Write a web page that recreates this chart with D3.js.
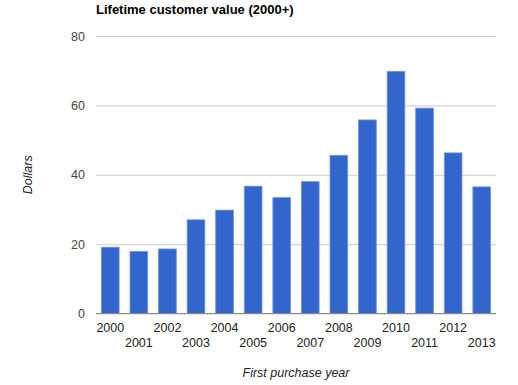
<!DOCTYPE html>
<html>
<head>
<meta charset="utf-8">
<script src="https://cdn.jsdelivr.net/npm/d3@7"></script>
<style>
  body { margin: 0; background: #fff; }
  text { font-family: Arial, "Liberation Sans", sans-serif; }
</style>
</head>
<body>
<svg id="chart"></svg>
<script>
// Data
const years = ["2000", "2001", "2002", "2003", "2004", "2005", "2006",
  "2007", "2008", "2009", "2010", "2011", "2012", "2013"];
const values = [19.1, 17.9, 18.6, 27.0, 29.8, 36.7, 33.4,
  38.0, 45.6, 55.8, 69.8, 59.2, 46.3, 36.5];
const yTicks = [0, 20, 40, 60, 80];

const W = 518, H = 385;
const margin = { top: 36, right: 22, bottom: 71.5, left: 96 };
const width = W - margin.left - margin.right;
const height = H - margin.top - margin.bottom;

const svg = d3.select("#chart").attr("width", W).attr("height", H);
const g = svg.append("g")
  .attr("transform", "translate(" + margin.left + "," + margin.top + ")");

const x = d3.scaleBand()
  .domain(years)
  .range([0, width])
  .paddingInner(0.382)
  .paddingOuter(0.191);

const y = d3.scaleLinear().domain([0, 80]).range([height, 0]);

// Gridlines + y labels
const yAxis = g.append("g")
  .call(d3.axisLeft(y).tickValues(yTicks).tickSize(-width).tickPadding(11));
yAxis.select(".domain").remove();
yAxis.selectAll(".tick line").attr("stroke", "#ccc");
yAxis.selectAll(".tick text")
  .attr("fill", "#444")
  .style("font-size", "12.5px");

// Bars
g.selectAll(".bar")
  .data(values)
  .enter()
  .append("rect")
  .attr("class", "bar")
  .attr("x", (d, i) => x(years[i]))
  .attr("y", (d) => y(d))
  .attr("width", x.bandwidth())
  .attr("height", (d) => height - y(d))
  .attr("fill", "#3366cc")
  .attr("stroke", "#6f8fdc")
  .attr("stroke-width", 0.8);

// Baseline
g.append("line")
  .attr("x1", 0).attr("x2", width)
  .attr("y1", y(0)).attr("y2", y(0))
  .attr("stroke", "#888").attr("stroke-width", 1.2);

// X labels in two staggered rows
const xAxis = g.append("g")
  .attr("transform", "translate(0," + height + ")")
  .call(d3.axisBottom(x).tickSize(0).tickPadding(0));
xAxis.select(".domain").remove();
xAxis.selectAll(".tick text")
  .attr("fill", "#222")
  .style("font-size", "12.5px")
  .attr("dy", null)
  .attr("y", (d, i) => (i % 2 === 0 ? 18.5 : 33.5));

// Title
svg.append("text")
  .attr("x", 96).attr("y", 14)
  .style("font-size", "13px")
  .style("font-weight", "bold")
  .attr("fill", "#000")
  .text("Lifetime customer value (2000+)");

// Axis titles
svg.append("text")
  .attr("x", margin.left + width / 2).attr("y", 377)
  .attr("text-anchor", "middle")
  .style("font-size", "12.5px")
  .style("font-style", "italic")
  .attr("fill", "#222")
  .text("First purchase year");

svg.append("text")
  .attr("transform", "translate(32," + (margin.top + height / 2) + ") rotate(-90)")
  .attr("text-anchor", "middle")
  .style("font-size", "12.5px")
  .style("font-style", "italic")
  .attr("fill", "#222")
  .text("Dollars");
</script>
</body>
</html>
